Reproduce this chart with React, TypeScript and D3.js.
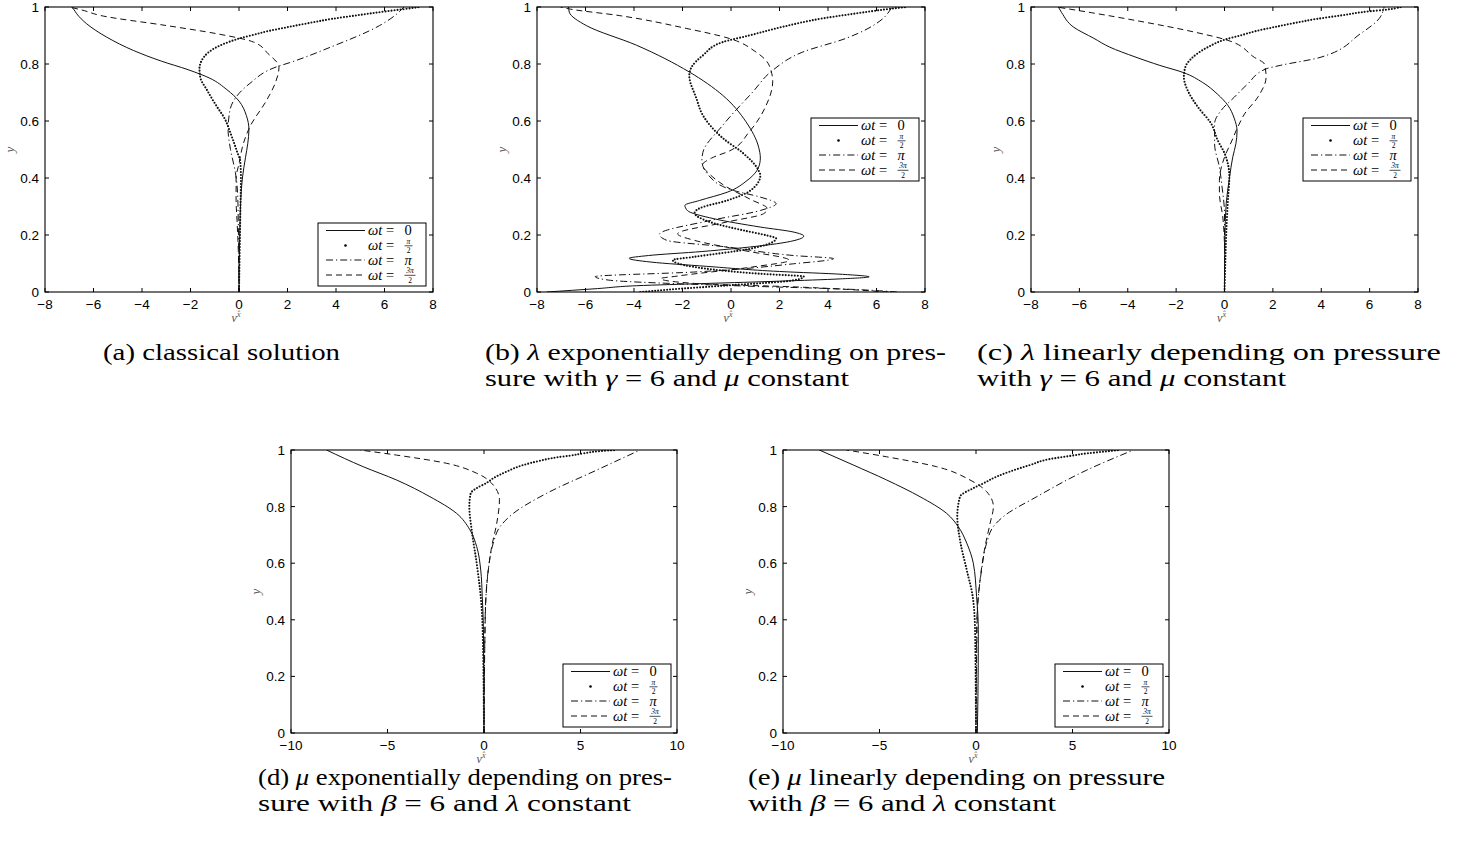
import React from "react";
import * as d3 from "d3";

type Pt = [number, number];

const width = 1459;
const height = 847;

// tick values
const yTicks = [0, 0.2, 0.4, 0.6, 0.8, 1];
const xTicksTop = [-8, -6, -4, -2, 0, 2, 4, 6, 8];
const xTicksBottom = [-10, -5, 0, 5, 10];

// legend labels: [numerator, denominator]
const legendLabels: [string, string | null][] = [["0", null], ["π", "2"], ["π", null], ["3π", "2"]];

// (a) classical solution, points are [v, y]
const aSolid: Pt[] = [[0, 0], [0.01, 0.1], [0.03, 0.2], [0.07, 0.32], [0.14, 0.4], [0.27, 0.473], [0.36, 0.52], [0.41, 0.57], [0.3, 0.62], [0, 0.67], [-0.5, 0.71], [-1.2, 0.75], [-2.1, 0.78], [-3.2, 0.81], [-4.34, 0.847], [-5.45, 0.894], [-6.28, 0.941], [-6.69, 0.976], [-6.8, 0.99], [-6.9, 1]];
const aDotted: Pt[] = [[0, 0], [0.02, 0.1], [0.04, 0.2], [0.06, 0.3], [0.08, 0.4], [0.05, 0.46], [-0.07, 0.49], [-0.34, 0.555], [-0.6, 0.61], [-0.9, 0.649], [-1.31, 0.707], [-1.6, 0.754], [-1.63, 0.783], [-1.45, 0.824], [-0.9, 0.86], [-0.4, 0.878], [0.07, 0.891], [0.59, 0.902], [1.23, 0.916], [1.99, 0.929], [2.84, 0.943], [3.81, 0.958], [4.88, 0.971], [6.08, 0.985], [6.75, 0.992], [7.45, 1]];
const aDashDot: Pt[] = [[0, 0], [-0.01, 0.1], [-0.03, 0.25], [-0.06, 0.35], [-0.15, 0.42], [-0.35, 0.5], [-0.45, 0.57], [-0.37, 0.639], [0.45, 0.732], [1.55, 0.79], [2.1, 0.805], [3.8, 0.86], [5.8, 0.935], [6.5, 0.975], [6.8, 1]];
const aDashed: Pt[] = [[0, 0], [-0.03, 0.15], [-0.08, 0.25], [-0.12, 0.32], [-0.12, 0.4], [0, 0.45], [0.18, 0.521], [0.45, 0.58], [1.14, 0.673], [1.49, 0.732], [1.65, 0.789], [1.2, 0.836], [0.6, 0.877], [-0.9, 0.906], [-3.0, 0.935], [-5.7, 0.97], [-6.5, 0.99], [-7.0, 1]];

// (b) lambda exponential
const bSolid: Pt[] = [[-7.6, 0], [-5.5, 0.012], [-3.9, 0.022], [-1.0, 0.03], [2.0, 0.038], [4.5, 0.046], [5.7, 0.053], [4.6, 0.062], [2.0, 0.072], [-1.0, 0.09], [-3.3, 0.105], [-4.2, 0.118], [-3.4, 0.128], [-1.2, 0.142], [0.1, 0.152], [2.3, 0.175], [3.0, 0.196], [2.6, 0.21], [1.2, 0.228], [-0.7, 0.257], [-1.8, 0.286], [-1.9, 0.304], [-1.3, 0.321], [-0.16, 0.35], [0.66, 0.391], [1.14, 0.438], [1.21, 0.47], [1.14, 0.508], [0.62, 0.597], [-0.34, 0.69], [-1.72, 0.772], [-3.9, 0.866], [-5.97, 0.935], [-6.67, 0.982], [-6.7, 1]];
const bDotted: Pt[] = [[-3.74, 0], [-2.64, 0.008], [-0.16, 0.023], [2.58, 0.041], [3.0, 0.054], [1.21, 0.064], [-1.54, 0.088], [-2.4, 0.112], [-1.54, 0.123], [0.8, 0.152], [1.86, 0.188], [1.5, 0.198], [0.52, 0.216], [-0.85, 0.245], [-1.5, 0.278], [-1.26, 0.295], [-0.16, 0.321], [0.8, 0.356], [1.21, 0.409], [1.14, 0.426], [0.5, 0.487], [-0.34, 0.54], [-1.16, 0.62], [-1.43, 0.68], [-1.72, 0.76], [-1.62, 0.79], [-1.16, 0.83], [-0.34, 0.877], [0.75, 0.9], [2.11, 0.93], [3.78, 0.96], [4.87, 0.974], [6.05, 0.988], [6.6, 0.994], [7.25, 1]];
const bDashDot: Pt[] = [[6.84, 0], [5.33, 0.008], [-0.16, 0.023], [-4.97, 0.041], [-5.6, 0.054], [-1.54, 0.07], [2.58, 0.099], [4.23, 0.117], [2.58, 0.128], [-0.16, 0.158], [-2.64, 0.181], [-2.95, 0.202], [-0.85, 0.251], [1.21, 0.286], [1.86, 0.31], [1.21, 0.333], [0.11, 0.356], [-0.92, 0.409], [-1.2, 0.461], [-1.16, 0.49], [-0.34, 0.585], [0.9, 0.702], [1.72, 0.778], [2.96, 0.842], [4.74, 0.89], [6.26, 0.959], [6.6, 0.994], [6.65, 1]];
const bDashed: Pt[] = [[6.5, 0], [2.6, 0.018], [-1.5, 0.03], [-2.9, 0.047], [-2.2, 0.056], [0.9, 0.088], [2.4, 0.111], [0.5, 0.146], [-1.5, 0.181], [-2.2, 0.204], [-0.2, 0.245], [1.35, 0.275], [1.5, 0.292], [0.8, 0.325], [-0.3, 0.375], [-0.9, 0.415], [-1.18, 0.445], [-0.8, 0.47], [-0.06, 0.495], [0.75, 0.562], [1.45, 0.655], [1.72, 0.737], [1.57, 0.796], [1.03, 0.842], [-0.08, 0.89], [-1.85, 0.925], [-4.61, 0.97], [-6.72, 0.994], [-7.03, 1]];

// (c) lambda linear
const cSolid: Pt[] = [[0, 0], [0.02, 0.2], [0.07, 0.31], [0.21, 0.403], [0.34, 0.473], [0.47, 0.52], [0.52, 0.565], [0.4, 0.61], [0.14, 0.655], [-0.3, 0.695], [-0.9, 0.735], [-1.7, 0.77], [-2.67, 0.795], [-3.7, 0.825], [-4.74, 0.859], [-5.4, 0.89], [-6.25, 0.93], [-6.73, 0.98], [-6.87, 1]];
const cDotted: Pt[] = [[0, 0], [0.03, 0.09], [0.07, 0.2], [0.14, 0.32], [0.2, 0.405], [0, 0.487], [-0.28, 0.532], [-0.56, 0.592], [-1.1, 0.649], [-1.52, 0.707], [-1.68, 0.754], [-1.62, 0.789], [-1.38, 0.818], [-0.69, 0.859], [0, 0.885], [0.73, 0.902], [1.32, 0.916], [2.03, 0.929], [2.85, 0.943], [3.8, 0.958], [4.87, 0.971], [6.0, 0.985], [6.63, 0.99], [7.3, 1]];
const cDashDot: Pt[] = [[0, 0], [0, 0.275], [-0.1, 0.368], [-0.21, 0.438], [-0.41, 0.52], [-0.41, 0.59], [-0.14, 0.637], [0.41, 0.684], [0.96, 0.73], [1.72, 0.783], [2.3, 0.795], [3.95, 0.823], [5.6, 0.905], [6.4, 0.96], [6.6, 1]];
const cDashed: Pt[] = [[0, 0], [0, 0.146], [-0.07, 0.263], [-0.21, 0.345], [-0.21, 0.392], [0, 0.473], [0.3, 0.53], [0.55, 0.579], [0.83, 0.625], [1.38, 0.684], [1.72, 0.754], [1.65, 0.8], [1.24, 0.823], [0.14, 0.883], [-1.24, 0.912], [-3.5, 0.95], [-5.5, 0.98], [-6.94, 1]];

// (d) mu exponential
const dSolid: Pt[] = [[0, 0], [-0.03, 0.365], [-0.09, 0.482], [-0.17, 0.576], [-0.38, 0.659], [-0.73, 0.718], [-1.42, 0.776], [-2.8, 0.835], [-4.53, 0.894], [-6.26, 0.941], [-8.16, 1]];
const dDotted: Pt[] = [[0, 0], [-0.07, 0.365], [-0.17, 0.482], [-0.38, 0.6], [-0.64, 0.718], [-0.76, 0.8], [-0.69, 0.847], [-0.38, 0.865], [0.14, 0.884], [0.48, 0.9], [1.18, 0.924], [2.04, 0.947], [2.9, 0.962], [3.77, 0.974], [4.46, 0.98], [5.15, 0.988], [6.02, 0.996], [6.88, 1]];
const dDashDot: Pt[] = [[0, 0], [0.05, 0.365], [0.1, 0.482], [0.22, 0.576], [0.48, 0.671], [0.83, 0.729], [1.52, 0.776], [3.25, 0.847], [5.84, 0.929], [8.09, 1]];
const dDashed: Pt[] = [[0, 0], [0.07, 0.424], [0.17, 0.541], [0.4, 0.659], [0.66, 0.741], [0.8, 0.824], [0.48, 0.876], [-0.38, 0.918], [-1.94, 0.953], [-4.53, 0.982], [-6.43, 1]];

// (e) mu linear
const eSolid: Pt[] = [[0.07, 0], [0.1, 0.13], [0.12, 0.365], [0.03, 0.482], [-0.14, 0.6], [-0.48, 0.671], [-0.92, 0.729], [-1.52, 0.776], [-2.9, 0.835], [-4.63, 0.894], [-6.36, 0.947], [-8.12, 1]];
const eDotted: Pt[] = [[0, 0], [-0.05, 0.365], [-0.17, 0.482], [-0.48, 0.576], [-0.83, 0.682], [-0.97, 0.765], [-0.83, 0.835], [-0.14, 0.865], [0.38, 0.882], [1.07, 0.906], [1.76, 0.924], [2.8, 0.947], [3.75, 0.967], [4.96, 0.98], [5.74, 0.988], [6.6, 0.994], [7.47, 1]];
const eDashDot: Pt[] = [[0, 0], [0.03, 0.365], [0.12, 0.482], [0.29, 0.576], [0.55, 0.671], [0.9, 0.729], [1.42, 0.765], [3.15, 0.835], [5.74, 0.929], [8.16, 1]];
const eDashed: Pt[] = [[0, 0], [0.07, 0.424], [0.21, 0.541], [0.47, 0.659], [0.73, 0.741], [0.9, 0.8], [0.55, 0.853], [-0.31, 0.894], [-2.04, 0.941], [-4.63, 0.976], [-6.71, 1]];

// line styles for wt = 0, pi/2, pi, 3pi/2
const styles = [
  { dash: undefined, width: 1, cap: "butt" },
  { dash: "0 3", width: 2.1, cap: "round" },
  { dash: "7 3 1.2 3", width: 1, cap: "butt" },
  { dash: "6 4", width: 1, cap: "butt" },
];

const panels = [
  { id: "a", l: 45, r: 433, t: 7, b: 292, xDomain: [-8, 8], xTicks: xTicksTop, curves: [aSolid, aDotted, aDashDot, aDashed], lx: 318, ly: 223 },
  { id: "b", l: 537, r: 925, t: 7, b: 292, xDomain: [-8, 8], xTicks: xTicksTop, curves: [bSolid, bDotted, bDashDot, bDashed], lx: 811, ly: 118 },
  { id: "c", l: 1031, r: 1418, t: 7, b: 292, xDomain: [-8, 8], xTicks: xTicksTop, curves: [cSolid, cDotted, cDashDot, cDashed], lx: 1303, ly: 118 },
  { id: "d", l: 291, r: 677, t: 450, b: 733, xDomain: [-10, 10], xTicks: xTicksBottom, curves: [dSolid, dDotted, dDashDot, dDashed], lx: 563, ly: 664 },
  { id: "e", l: 783, r: 1169, t: 450, b: 733, xDomain: [-10, 10], xTicks: xTicksBottom, curves: [eSolid, eDotted, eDashDot, eDashed], lx: 1055, ly: 664 },
];

const tickFont = "'Liberation Sans', Arial, Helvetica, sans-serif";
const serif = "'Liberation Serif', 'Times New Roman', serif";

const fmtY = (d: number) => (d === 0 || d === 1 ? String(d) : d.toFixed(1));
const fmtX = (d: number) => (d < 0 ? "\u2212" + Math.abs(d) : String(d));

function Legend({ x, y }: { x: number; y: number }) {
  const w = 108;
  const h = 63;
  const rows = [7.5, 22.5, 37, 52];
  return (
    <g>
      <rect x={x} y={y} width={w} height={h} fill="white" stroke="black" strokeWidth={1} />
      {rows.map((dy, i) => {
        const cy = y + dy;
        const st = styles[i];
        const [num, den] = legendLabels[i];
        const fw = num.length > 1 ? 11 : 8;
        const vx = x + 86.5;
        return (
          <g key={i} fontFamily={serif}>
            {i === 1 ? (
              <circle cx={x + 27.5} cy={cy} r={1.3} fill="black" />
            ) : (
              <line x1={x + 8} x2={x + 47} y1={cy} y2={cy} stroke="#111" strokeWidth={1} strokeDasharray={st.dash} />
            )}
            <text x={x + 50} y={cy + 4.5} fontSize={14.5} fontStyle="italic">
              ωt
            </text>
            <text x={x + 68} y={cy + 4.5} fontSize={14.5}>
              =
            </text>
            {den === null ? (
              <text x={vx} y={cy + 4.5} fontSize={14.5} fontStyle={num === "π" ? "italic" : "normal"}>
                {num}
              </text>
            ) : (
              <g fontSize={7.5} textAnchor="middle">
                <text x={vx + fw / 2} y={cy - 1.6} fontStyle="italic">
                  {num}
                </text>
                <line x1={vx} x2={vx + fw} y1={cy + 0.3} y2={cy + 0.3} stroke="black" strokeWidth={0.7} />
                <text x={vx + fw / 2} y={cy + 7.8}>
                  {den}
                </text>
              </g>
            )}
          </g>
        );
      })}
    </g>
  );
}

function Panel(p: typeof panels[number]) {
  const xs = d3.scaleLinear().domain(p.xDomain).range([p.l, p.r]);
  const ys = d3.scaleLinear().domain([0, 1]).range([p.b, p.t]);
  const line = d3
    .line<Pt>()
    .x((d) => xs(d[0]))
    .y((d) => ys(d[1]))
    .curve(d3.curveMonotoneY);
  const tl = 4;
  const cx = (p.l + p.r) / 2;
  const cy = (p.t + p.b) / 2;
  return (
    <g>
      <clipPath id={"clip-" + p.id}>
        <rect x={p.l} y={p.t} width={p.r - p.l} height={p.b - p.t} />
      </clipPath>
      <rect x={p.l} y={p.t} width={p.r - p.l} height={p.b - p.t} fill="white" />
      <g clipPath={`url(#clip-${p.id})`}>
        {p.curves.map((c, i) => (
          <path
            key={i}
            d={line(c) || ""}
            fill="none"
            stroke="#111"
            strokeWidth={styles[i].width}
            strokeDasharray={styles[i].dash}
            strokeLinecap={styles[i].cap as any}
          />
        ))}
      </g>
      {/* ticks, all four sides, pointing in */}
      {p.xTicks.map((t) => (
        <g key={"x" + t}>
          <line x1={xs(t)} x2={xs(t)} y1={p.b} y2={p.b - tl} stroke="black" />
          <line x1={xs(t)} x2={xs(t)} y1={p.t} y2={p.t + tl} stroke="black" />
          <text x={xs(t)} y={p.b + 16.5} textAnchor="middle" fontFamily={tickFont} fontSize={13.5}>
            {fmtX(t)}
          </text>
        </g>
      ))}
      {yTicks.map((t) => (
        <g key={"y" + t}>
          <line x1={p.l} x2={p.l + tl} y1={ys(t)} y2={ys(t)} stroke="black" />
          <line x1={p.r} x2={p.r - tl} y1={ys(t)} y2={ys(t)} stroke="black" />
          <text x={p.l - 6} y={ys(t) + 5} textAnchor="end" fontFamily={tickFont} fontSize={13.5}>
            {fmtY(t)}
          </text>
        </g>
      ))}
      <rect x={p.l} y={p.t} width={p.r - p.l} height={p.b - p.t} fill="none" stroke="black" strokeWidth={1.1} />
      {/* axis labels */}
      <text transform={`translate(${p.l - 31},${cy}) rotate(-90)`} textAnchor="middle" fontFamily={serif} fontStyle="italic" fontSize={13} fill="#555">
        y
      </text>
      <text x={cx - 3} y={p.b + 30} fontFamily={serif} fontSize={12} fill="#555" textAnchor="middle">
        <tspan fontStyle="italic">v</tspan>
        <tspan fontSize={8} dy={-5} fontStyle="italic">{"x\u0302"}</tspan>
      </text>
      <Legend x={p.lx} y={p.ly} />
    </g>
  );
}

function Cap({ x, y, w, children }: { x: number; y: number; w: number; children: React.ReactNode }) {
  return (
    <text x={x} y={y} textLength={w} lengthAdjust="spacingAndGlyphs" fontFamily={serif} fontSize={24}>
      {children}
    </text>
  );
}

const I = ({ children }: { children: React.ReactNode }) => <tspan fontStyle="italic">{children}</tspan>;

export default function App() {
  return (
    <svg width={width} height={height} style={{ position: "absolute", left: 0, top: 0, background: "white" }}>
      {panels.map((p) => (
        <Panel key={p.id} {...p} />
      ))}
      <Cap x={103} y={360} w={237}>(a) classical solution</Cap>
      <Cap x={485} y={360} w={461}>
        (b) <I>λ</I> exponentially depending on pres-
      </Cap>
      <Cap x={485} y={386} w={364}>
        sure with <I>γ</I> = 6 and <I>μ</I> constant
      </Cap>
      <Cap x={977} y={360} w={464}>
        (c) <I>λ</I> linearly depending on pressure
      </Cap>
      <Cap x={977} y={386} w={309}>
        with <I>γ</I> = 6 and <I>μ</I> constant
      </Cap>
      <Cap x={258} y={785} w={414}>
        (d) <I>μ</I> exponentially depending on pres-
      </Cap>
      <Cap x={258} y={811} w={373}>
        sure with <I>β</I> = 6 and <I>λ</I> constant
      </Cap>
      <Cap x={748} y={785} w={417}>
        (e) <I>μ</I> linearly depending on pressure
      </Cap>
      <Cap x={748} y={811} w={308}>
        with <I>β</I> = 6 and <I>λ</I> constant
      </Cap>
    </svg>
  );
}
